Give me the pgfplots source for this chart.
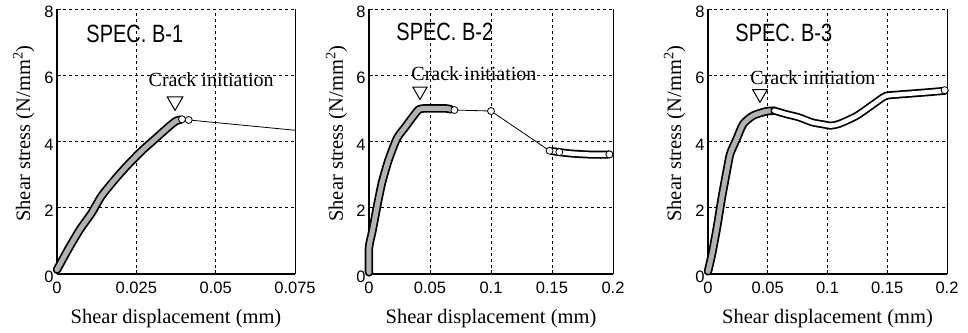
\documentclass[border=0pt]{standalone}
\usepackage{fontspec}
\setmainfont{Liberation Serif}
\newfontfamily\ticksf{Liberation Sans}
\newfontfamily\specf{Liberation Sans}[FakeStretch=0.8]
\usepackage{pgfplots}
\pgfplotsset{compat=1.18}

\pgfplotstableread{
x y
0 0.13
0.0035 0.74
0.0072 1.34
0.0109 1.84
0.014 2.35
0.0182 2.85
0.0219 3.25
0.0266 3.71
0.0307 4.06
0.0349 4.42
0.0375 4.62
0.0390 4.66
}\bandA
\pgfplotstableread{
x y
0 0.05
0 0.8
0.0028 1.3
0.0064 2.0
0.0106 2.75
0.0161 3.45
0.023 4.1
0.030 4.45
0.036 4.75
0.041 4.97
0.046 5.0
0.052 5.0
0.063 5.0
0.067 4.97
}\bandB
\pgfplotstableread{
x y
0.150 3.71
0.156 3.68
0.165 3.64
0.178 3.61
0.190 3.60
0.197 3.61
}\tailB
\pgfplotstableread{
x y
0 0.08
0.0035 0.63
0.0076 1.43
0.0117 2.33
0.0158 3.13
0.0186 3.63
0.024 4.08
0.0295 4.53
0.0377 4.78
0.0486 4.91
0.0555 4.93
}\bandC
\pgfplotstableread{
x y
0.0555 4.93
0.065 4.83
0.076 4.73
0.087 4.58
0.096 4.52
0.1027 4.48
0.1096 4.53
0.1246 4.78
0.1424 5.23
0.149 5.38
0.160 5.42
0.171 5.45
0.185 5.49
0.198 5.53
}\tailC

\pgfplotsset{
 myax/.style={
  scale only axis, height=265pt,
  ymin=0, ymax=8, ytick={0,2,4,6,8}, yticklabels={0,2,4,6,8},
  scaled x ticks=false, scaled y ticks=false,
  axis lines=left, axis line style={-, line width=1.5pt},
  grid=major, major grid style={black, line width=0.6pt, dash pattern=on 3pt off 3pt},
  tick style={black, line width=0.8pt}, major tick length=4pt, tick align=inside,
  ticklabel style={font=\ticksf\fontsize{16.5}{16.5}\selectfont},
  xticklabel style={yshift=-4pt},
  yticklabel style={yshift=-3pt},
  clip=false,
  xlabel={Shear displacement (mm)},
  ylabel={Shear stress (N/mm\textsuperscript{2})},
  label style={font=\fontsize{20.5}{20.5}\selectfont},
  xlabel style={at={(axis description cs:0.5,0)}, anchor=base, yshift=-49pt},
 },
 bandout/.style={black, line width=8.5pt, line join=round, line cap=round, smooth, tension=0.4},
 bandin/.style={gray!60, line width=5pt, line join=round, line cap=round, smooth, tension=0.4},
 chainin/.style={white, line width=4.5pt, line join=round, line cap=round, smooth, tension=0.4},
 circ/.style={only marks, mark=*, mark size=3.5pt, mark options={fill=white, draw=black, line width=0.8pt}},
 tri/.style={only marks, mark=triangle, mark options={rotate=180, fill=white, draw=black, line width=1pt}},
}
\tikzset{
 crack/.style={font=\fontsize{20}{20}\selectfont, anchor=base},
 spec/.style={font=\specf\fontsize{25}{25}\selectfont, anchor=base west},
}

\begin{document}
\begin{tikzpicture}
% Panel 1
\begin{axis}[myax, at={(57pt,58pt)}, anchor=south west, width=238pt,
  xmin=0, xmax=0.075, xtick={0,0.025,0.05,0.075}, xticklabels={0,0.025,0.05,0.075},
  ylabel style={at={(axis description cs:-0.113,0.53)}, anchor=base}]
\addplot[bandout] table {\bandA};
\addplot[bandin] table {\bandA};
\addplot[black, line width=0.8pt] coordinates {(0.0394,4.67) (0.0415,4.65) (0.075,4.34)};
\addplot[circ] coordinates {(0.0394,4.67) (0.0415,4.65)};
\addplot[tri, mark size=9pt] coordinates {(0.0372,5.21)};
\node[crack] at (axis cs:0.0486,5.67) {Crack initiation};
\node[spec] at (rel axis cs:0.109,0.872) {SPEC. B-1};
\draw[line width=0.8pt] (rel axis cs:1,0) -- (rel axis cs:1,1);
\end{axis}
% Panel 2
\begin{axis}[myax, at={(369pt,58pt)}, anchor=south west, width=244pt,
  xmin=0, xmax=0.2, xtick={0,0.05,0.1,0.15,0.2}, xticklabels={0,0.05,0.1,0.15,0.2},
  ylabel style={at={(axis description cs:-0.107,0.53)}, anchor=base}]
\addplot[black, line width=0.8pt] coordinates {(0.067,4.97) (0.07,4.95) (0.1,4.92) (0.148,3.72) (0.156,3.68)};
\addplot[bandout] table {\bandB};
\addplot[bandin] table {\bandB};
\addplot[bandout, line width=8pt] table {\tailB};
\addplot[chainin] table {\tailB};
\addplot[circ] coordinates {(0.07,4.95) (0.1,4.92) (0.148,3.72) (0.156,3.68) (0.197,3.61)};
\addplot[tri, mark size=8.3pt] coordinates {(0.0418,5.52)};
\node[crack] at (axis cs:0.086,5.85) {Crack initiation};
\node[spec] at (rel axis cs:0.098,0.883) {SPEC. B-2};
\draw[line width=0.8pt] (rel axis cs:1,0) -- (rel axis cs:1,1);
\end{axis}
% Panel 3
\begin{axis}[myax, at={(708pt,58pt)}, anchor=south west, width=239pt,
  xmin=0, xmax=0.2, xtick={0,0.05,0.1,0.15,0.2}, xticklabels={0,0.05,0.1,0.15,0.2},
  ylabel style={at={(axis description cs:-0.113,0.53)}, anchor=base}]
\addplot[bandout] table {\bandC};
\addplot[bandin] table {\bandC};
\addplot[bandout, line width=8pt] table {\tailC};
\addplot[chainin] table {\tailC};
\addplot[circ] coordinates {(0.198,5.55)};
\addplot[tri, mark size=8.5pt] coordinates {(0.0435,5.44)};
\node[crack] at (axis cs:0.0878,5.73) {Crack initiation};
\node[spec] at (rel axis cs:0.100,0.877) {SPEC. B-3};
\draw[line width=0.8pt] (rel axis cs:1,0) -- (rel axis cs:1,1);
\end{axis}
\pgfresetboundingbox
\path[use as bounding box] (0,0) rectangle (968pt,332pt);
\end{tikzpicture}
\end{document}
